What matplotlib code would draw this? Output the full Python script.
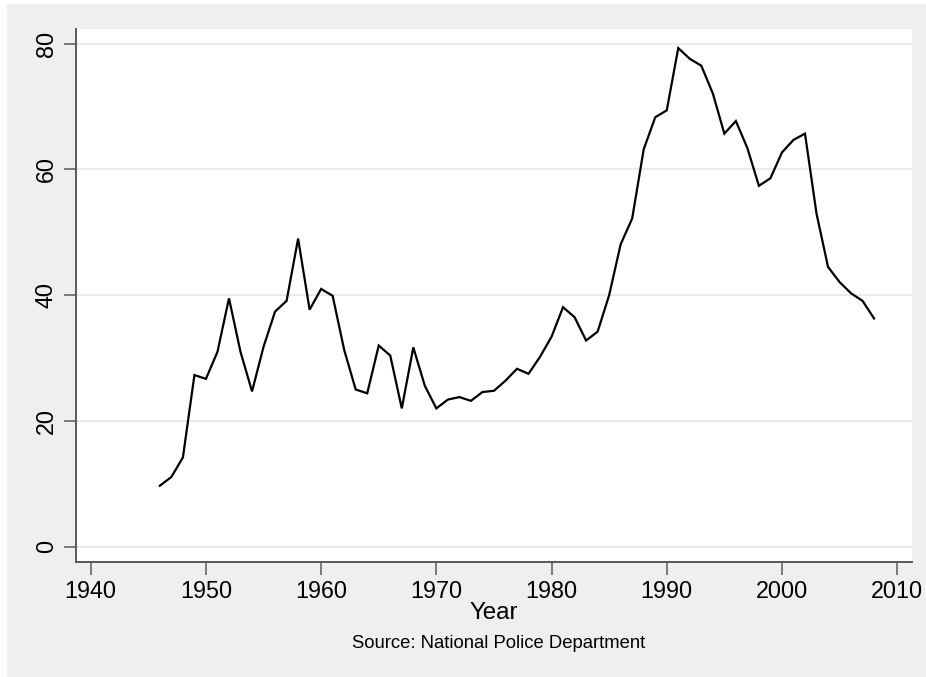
import matplotlib.pyplot as plt
from matplotlib.patches import Rectangle

plt.rcParams["font.family"] = ["Liberation Sans", "DejaVu Sans"]

# Values
years = list(range(1946, 2009))
values = [
    9.7, 11.1, 14.2, 27.3, 26.7, 31.0, 39.5, 31.0, 24.7, 31.8,
    37.4, 39.1, 49.0, 37.7, 41.0, 39.9, 31.3, 25.0, 24.4, 32.0,
    30.4, 22.0, 31.7, 25.6, 22.0, 23.4, 23.8, 23.2, 24.6, 24.8,
    26.4, 28.3, 27.5, 30.2, 33.4, 38.1, 36.5, 32.8, 34.2, 40.0,
    48.1, 52.2, 63.2, 68.3, 69.4, 79.3, 77.6, 76.5, 72.1, 65.7,
    67.7, 63.4, 57.4, 58.6, 62.7, 64.7, 65.7, 53.0, 44.5, 42.1,
    40.3, 39.1, 36.3,
]
x_ticks = [1940, 1950, 1960, 1970, 1980, 1990, 2000, 2010]
y_ticks = [0, 20, 40, 60, 80]

W, H = 926, 677
fig = plt.figure(figsize=(W / 100, H / 100), dpi=100)
fig.patch.set_facecolor("white")
# light gray outer box (small white margin on left and top)
fig.patches.append(Rectangle((7 / W, 0), 1 - 7 / W, 1 - 4 / H,
                             transform=fig.transFigure, facecolor="#efefef",
                             edgecolor="none", zorder=-10))

ax = fig.add_axes([76 / W, 1 - 562 / H, (912 - 76) / W, (562 - 29) / H])
ax.set_facecolor("white")
ax.plot(years, values, color="black", lw=1.6, solid_joinstyle="miter", zorder=3)

ax.set_xlim(1938.72, 2011.29)
ax.set_ylim(-2.43, 82.34)
ax.set_xticks(x_ticks)
ax.set_yticks(y_ticks)
ax.set_yticklabels([str(t) for t in y_ticks], rotation=90, va="center")
ax.grid(axis="y", color="#e8e8e8", lw=1.3, zorder=1)
ax.set_axisbelow(True)

for s in ["top", "right"]:
    ax.spines[s].set_visible(False)
for s in ["left", "bottom"]:
    ax.spines[s].set_color("#595959")
    ax.spines[s].set_linewidth(1.4)
ax.tick_params(axis="both", length=9, width=1.1, color="#595959",
               labelsize=16.8, labelcolor="black", pad=4)

ax.set_xlabel("Year", fontsize=17.4, labelpad=-1)
fig.text(499 / W, 1 - 643 / H, "Source: National Police Department",
         ha="center", va="center", fontsize=13.3)

fig.savefig("out.png", dpi=100, facecolor=fig.get_facecolor())
